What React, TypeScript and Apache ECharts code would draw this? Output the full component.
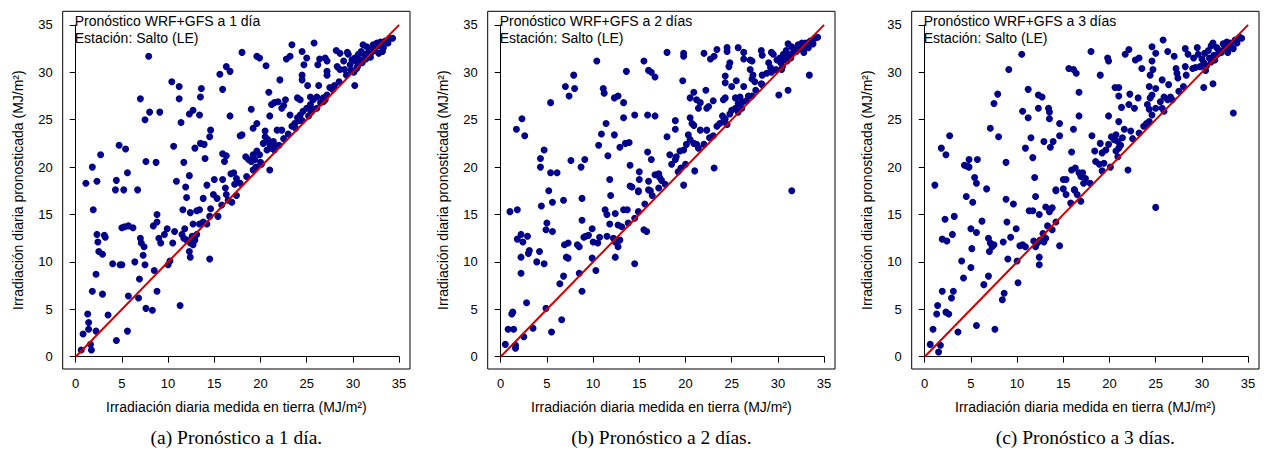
import React, { useEffect, useRef } from "react";
import * as echarts from "echarts";

const TICKS_MIN = 0;
const TICKS_MAX = 35;
const TICK_STEP = 5;
const PANEL_TITLES = ["Pron\u00f3stico WRF+GFS a 1 d\u00eda", "Pron\u00f3stico WRF+GFS a 2 d\u00edas", "Pron\u00f3stico WRF+GFS a 3 d\u00edas"];
const STATION = "Estaci\u00f3n: Salto (LE)";
const CAPTIONS = ["(a) Pron\u00f3stico a 1 d\u00eda.", "(b) Pron\u00f3stico a 2 d\u00edas.", "(c) Pron\u00f3stico a 3 d\u00edas."];
const X_TITLE = "Irradiaci\u00f3n diaria medida en tierra (MJ/m\u00b2)";
const Y_TITLE = "Irradiaci\u00f3n diaria pronosticada (MJ/m\u00b2)";
const REF_LINE = [[0, 0], [35, 35]];

const DAY1 = [
  [7.9,31.7],[10.4,29.0],[11.2,28.5],[13.6,28.3],[15.9,28.2],[15.6,29.8],[16.3,30.6],[16.7,30.1],[18.0,32.1],[7.0,27.2],[11.2,27.2],[13.5,27.4],[8.0,25.8],[9.1,25.8],[7.5,25.0],[12.3,25.6],[12.7,26.0],[13.4,25.5],[11.4,24.7],[16.7,25.4],[14.6,23.9],[14.5,23.2],[17.8,23.3],[4.7,22.3],[5.4,21.9],[2.7,21.3],[10.6,22.2],[13.5,22.5],[13.9,22.4],[12.9,22.0],[11.7,20.5],[14.0,20.9],[15.9,21.4],[16.3,21.2],[16.1,20.6],[7.6,20.6],[8.7,20.5],[1.8,20.0],[5.6,19.4],[1.1,18.3],[2.3,18.5],[4.4,18.6],[10.9,18.5],[12.3,19.1],[11.9,17.9],[4.3,17.6],[5.2,17.6],[6.7,17.6],[14.2,18.1],[15.0,18.7],[15.9,18.7],[16.8,19.3],[16.2,17.8],[17.2,18.2],
  [19.6,31.7],[19.9,31.5],[20.6,30.7],[23.4,32.9],[25.8,33.1],[22.8,31.4],[23.2,31.7],[24.5,32.2],[25.0,31.5],[26.4,31.4],[27.0,31.5],[27.2,31.2],[24.7,30.8],[26.2,30.8],[28.2,32.3],[28.6,32.0],[29.4,32.1],[28.3,30.6],[28.6,30.3],[29.1,30.3],[29.7,30.8],
  [30.2,31.5],[30.6,31.9],[30.9,32.2],[31.1,32.9],[31.5,32.7],[31.8,32.4],[32.2,32.9],[32.6,33.1],[32.9,32.8],[33.3,32.6],[33.5,33.3],[34.0,33.6],[34.3,33.6],[30.3,31.2],[30.8,31.3],[29.5,31.9],[29.9,31.3],[29.0,31.2],[31.2,31.9],[31.6,32.0],[32.0,32.1],[32.4,32.5],[33.0,33.2],[33.8,33.1],[30.5,30.6],[31.0,31.0],[29.8,30.2],[30.1,30.0],[32.8,32.0],[33.2,32.2],[29.3,29.7],[30.4,30.4],[31.4,31.4],[31.9,31.6],[32.3,32.3],
  [30.2,28.6],[22.1,29.2],[24.5,29.7],[24.5,29.2],[25.1,28.6],[26.3,28.6],[27.2,30.1],[27.2,29.7],[27.5,28.4],[20.9,27.9],[21.5,26.8],[21.2,26.6],[21.9,26.9],[22.7,27.1],[24.0,27.3],[24.3,27.1],[25.4,27.4],[25.7,27.1],[26.1,27.4],[26.8,27.3],[27.2,27.6],[22.3,26.2],[22.5,26.5],[23.2,25.5],[21.0,25.4],[19.0,26.1],[24.0,25.2],[24.3,25.5],[24.6,25.9],[25.0,26.2],[25.7,26.1],[25.4,26.6],[26.1,26.2],[19.6,24.6],[19.2,24.1],[18.0,23.4],[20.5,23.8],[20.5,23.2],[21.8,23.9],[22.3,23.9],[23.4,24.3],[23.7,24.6],[24.1,24.9],[20.8,22.9],[21.0,22.4],[21.4,22.7],[21.2,22.0],[21.6,22.2],[20.7,21.8],[20.3,22.5],[18.4,21.1],[19.2,21.3],[19.6,21.7],[19.9,21.3],[18.7,20.8],[19.0,20.6],[19.4,20.8],[19.2,19.7],[20.1,20.3],[21.0,19.7],[17.4,18.8],[17.1,19.4],
  [25.5,25.8],[26.5,26.8],[27.0,27.1],[27.8,28.2],[28.5,29.0],[28.0,28.6],[26.8,26.9],[23.0,23.5],[22.5,23.0],[24.5,24.9],[25.2,25.4],[22.0,22.3],[20.0,20.5],[18.5,19.0],[17.8,18.3],[19.5,20.0],[21.5,21.8],[23.8,24.1],
  [1.9,15.5],[12.0,16.8],[13.8,16.7],[14.9,17.1],[15.3,16.7],[16.3,17.1],[16.5,16.5],[11.6,15.5],[12.4,15.2],[13.1,15.4],[13.4,15.5],[8.8,15.0],[14.5,14.8],[15.4,14.8],[5.0,13.6],[5.3,13.7],[5.7,13.8],[6.2,13.6],[2.3,12.9],[3.1,12.8],[3.2,12.6],[2.4,12.1],[8.4,13.8],[8.8,14.2],[9.9,13.5],[10.7,13.2],[9.6,12.9],[11.8,13.5],[12.7,14.0],[13.4,14.0],[13.8,14.2],[14.2,14.0],[11.5,12.9],[11.7,12.5],[12.0,12.3],[12.4,12.0],[12.7,11.8],[12.9,12.3],[13.1,12.9],[12.6,12.7],[7.0,12.5],[7.1,12.0],[7.4,11.6],[9.0,12.5],[9.2,12.0],[10.5,12.0],[2.5,11.1],[2.9,10.8],[7.3,10.7],[4.0,9.8],[4.8,9.7],[5.0,9.7],[6.4,10.0],[7.5,9.7],[10.2,10.1],[10.0,9.7],[12.3,11.1],[12.4,10.5],[14.5,10.3],[2.2,8.7],[8.5,9.1],[6.9,8.2],[1.8,6.9],[2.9,6.6],[8.8,6.9],[5.7,6.4],[6.8,6.2],[1.3,4.5],[3.5,4.4],[11.3,5.4],[7.6,5.1],[8.3,4.9],[1.4,3.6],[1.4,2.9],[2.2,2.7],[0.8,2.4],[5.6,2.7],[4.4,1.7],[1.6,1.3],[1.7,0.7],[0.6,0.7],
  [16.9,16.3],[17.4,17.0],[15.8,16.0],[14.6,15.6]
];

const DAY2 = [
  [10.4,31.2],[15.5,31.2],[16.0,30.2],[16.3,30.0],[16.7,29.5],[13.6,30.1],[18.0,32.1],[7.9,29.7],[7.0,28.5],[8.0,28.3],[7.4,27.5],[5.4,26.8],[11.1,28.3],[11.2,27.8],[12.3,27.3],[12.7,27.5],[13.3,26.8],[2.3,25.1],[1.7,24.0],[2.6,23.3],[13.3,25.2],[14.5,25.5],[15.9,25.5],[16.7,25.4],[11.4,24.6],[10.9,23.5],[12.3,23.4],[13.5,22.5],[13.9,22.6],[12.9,22.1],[10.6,22.3],[4.7,21.8],[4.3,20.9],[4.3,20.0],[11.6,21.2],[15.9,21.6],[16.3,20.8],[7.6,20.7],[9.1,20.8],[8.7,20.0],[5.4,19.4],[6.1,19.4],[14.0,20.2],[15.0,19.5],[11.8,18.7],[5.2,17.5],[14.0,18.0],[15.0,18.7],[16.0,18.5],[16.7,19.2],[17.2,18.9],[14.9,17.5],[16.2,17.5],
  [19.8,32.0],[19.8,31.7],[22.0,32.0],[23.4,32.4],[22.7,31.4],[23.1,31.7],[24.5,32.6],[24.5,32.2],[25.7,32.6],[26.3,32.1],[26.3,31.4],[27.0,31.3],[27.2,31.2],[24.8,31.0],[24.7,30.6],[28.2,32.3],[28.3,31.8],[29.3,32.1],[29.5,31.9],
  [30.2,31.5],[30.6,31.9],[30.9,32.3],[31.1,33.0],[31.5,32.7],[31.8,32.4],[32.2,32.9],[32.6,33.1],[32.9,32.8],[33.3,32.6],[33.5,33.3],[34.0,33.6],[34.3,33.7],[30.3,31.0],[30.8,31.3],[29.9,31.3],[29.0,31.0],[31.2,31.8],[31.6,32.0],[32.0,32.2],[32.4,32.5],[33.0,33.1],[33.8,33.0],[30.5,30.6],[31.0,31.2],[29.8,30.3],[32.8,32.1],[29.3,30.0],[30.4,30.3],[31.4,31.5],
  [33.4,29.7],[31.1,28.1],[30.1,27.6],[24.3,29.6],[24.3,28.9],[25.5,29.1],[25.0,28.5],[26.3,28.5],[27.0,30.3],[27.3,29.7],[27.2,29.3],[27.5,29.0],[28.3,29.7],[28.8,29.9],[28.3,28.7],[29.2,30.5],[19.7,29.1],[20.9,27.9],[20.5,27.3],[22.2,28.1],[21.2,27.1],[21.6,26.8],[21.4,26.2],[22.3,26.2],[22.5,26.4],[23.0,27.0],[24.1,27.1],[24.3,27.3],[25.4,27.3],[25.9,27.4],[26.2,26.9],[25.7,26.7],[26.8,27.5],[27.2,27.5],[24.0,25.4],[24.3,25.1],[24.1,24.8],[24.5,24.5],[24.8,25.6],[25.0,26.0],[25.4,26.2],[25.7,25.8],[26.1,26.2],[20.5,25.2],[20.7,24.6],[20.9,24.4],[18.9,24.9],[18.9,24.0],[18.0,23.2],[21.6,23.9],[22.3,23.9],[23.4,24.3],[23.7,24.6],[20.3,23.4],[20.5,22.9],[20.9,22.5],[20.1,22.4],[21.2,22.4],[21.4,22.0],[18.3,21.3],[19.0,21.1],[19.4,21.7],[19.8,21.8],[18.5,20.3],[18.9,20.8],[23.1,19.9],[19.2,19.5],[21.0,19.6],[19.8,18.1],[31.5,17.5],[17.4,18.6],[17.1,19.3],
  [22.0,22.4],[23.0,23.3],[26.6,27.0],[27.6,28.1],[28.2,28.8],[20.0,20.3],[17.8,18.2],[19.5,19.9],[22.6,23.1],
  [14.2,17.9],[14.9,17.4],[16.0,17.6],[17.1,17.8],[5.6,16.3],[6.8,16.5],[8.8,16.7],[4.4,15.9],[11.9,17.0],[1.0,15.3],[1.8,15.5],[11.5,15.0],[11.3,15.5],[12.4,15.1],[13.3,15.5],[13.7,15.5],[8.8,14.4],[5.0,14.1],[4.9,13.4],[5.6,13.2],[9.9,13.5],[9.5,12.8],[9.0,12.6],[9.2,12.7],[10.7,12.6],[11.5,12.7],[12.2,12.5],[11.8,14.0],[12.7,13.9],[13.1,13.7],[13.8,14.1],[14.5,14.6],[15.5,13.4],[15.8,13.2],[2.2,12.9],[2.9,12.7],[1.8,12.4],[2.4,12.1],[6.9,11.8],[7.3,12.0],[8.3,11.8],[8.5,11.6],[10.0,12.1],[10.5,12.0],[12.7,11.6],[12.9,12.3],[12.4,12.1],[3.1,11.2],[3.0,10.9],[4.2,11.1],[2.2,10.5],[3.9,10.0],[4.7,9.8],[7.1,10.5],[7.3,10.4],[9.9,10.4],[12.4,10.5],[14.5,9.8],[10.3,9.1],[2.2,8.8],[6.8,8.5],[8.5,8.8],[6.4,7.7],[8.8,6.9],[2.8,5.7],[4.9,5.1],[1.3,4.7],[1.2,4.5],[6.6,3.9],[0.8,2.9],[1.4,2.9],[3.5,3.0],[2.5,2.1],[5.5,2.6],[0.5,1.3],[1.6,1.2],[1.6,0.9],[16.4,17.0],[15.6,16.1],[14.9,15.3]
];

const DAY3 = [
  [10.5,31.9],[9.1,30.3],[15.6,30.4],[16.1,30.3],[16.4,29.9],[18.0,32.2],[16.7,27.9],[11.2,28.2],[12.3,27.6],[12.7,27.4],[7.9,27.7],[7.5,26.7],[12.3,26.2],[13.4,26.2],[13.5,25.8],[10.6,25.9],[11.2,25.2],[13.5,25.1],[16.7,25.4],[14.6,24.6],[16.1,24.0],[7.1,24.1],[8.0,23.2],[2.7,23.3],[14.6,23.3],[11.5,23.1],[12.9,22.7],[13.9,22.7],[13.6,22.1],[1.8,22.0],[2.3,21.3],[10.9,22.0],[15.9,21.6],[11.7,21.0],[4.3,20.2],[4.6,20.1],[4.8,20.0],[4.8,20.8],[5.7,20.8],[8.8,20.5],[15.9,19.7],[16.3,19.9],[16.7,19.4],[16.9,19.0],[5.4,18.9],[5.6,18.3],[11.9,18.9],[1.1,18.1],[6.7,17.7],[14.2,17.6],[15.0,18.7],[15.3,18.7],[16.2,17.6],[17.2,18.3],
  [19.0,29.7],[19.8,31.5],[19.9,31.2],[21.7,31.9],[22.1,32.4],[22.8,31.3],[23.2,31.5],[23.5,30.4],[24.6,32.7],[25.0,32.0],[24.6,31.2],[24.7,30.3],[24.4,29.7],[25.8,33.4],[26.3,32.2],[27.0,31.7],[27.2,30.4],[27.3,29.9],[27.4,29.4],[25.7,29.2],[26.4,28.7],[28.2,32.5],[28.5,31.9],[29.5,32.6],[29.1,31.5],[29.6,31.9],
  [30.3,32.0],[30.7,32.3],[31.0,32.8],[31.2,33.1],[31.6,32.6],[31.9,32.3],[32.3,33.0],[32.7,33.2],[33.0,32.7],[33.4,32.5],[33.6,33.4],[34.1,33.7],[34.3,33.6],[30.2,31.0],[30.8,31.5],[30.0,31.4],[31.3,31.8],[31.7,31.9],[32.1,32.1],[32.5,32.6],[33.1,33.1],[33.8,33.1],[30.5,30.7],[31.0,31.1],[29.8,30.6],[32.8,32.1],[30.4,30.2],[31.4,31.3],
  [28.2,30.6],[28.3,29.7],[29.0,30.4],[29.3,30.5],[30.2,28.4],[31.2,28.8],[33.4,25.7],[20.6,28.4],[21.0,28.4],[24.3,28.5],[25.0,28.3],[21.0,27.5],[22.2,27.7],[23.1,27.3],[24.4,27.3],[24.6,27.6],[25.9,27.4],[26.3,27.1],[26.6,27.4],[25.5,26.9],[21.3,26.3],[22.1,26.6],[22.7,26.2],[24.1,26.6],[24.3,26.1],[24.6,25.5],[25.0,26.2],[25.7,26.2],[25.9,25.9],[19.9,25.4],[21.0,24.8],[23.7,24.3],[24.0,24.6],[24.3,24.8],[18.1,23.3],[21.6,24.0],[22.3,23.8],[20.2,23.2],[20.7,23.4],[20.5,22.9],[20.9,22.7],[21.2,22.3],[21.4,23.1],[18.4,21.7],[19.0,22.5],[19.2,21.5],[19.9,22.4],[19.6,21.8],[20.7,21.7],[21.0,22.0],[20.9,21.1],[18.5,20.6],[18.9,20.3],[19.4,20.4],[22.0,19.7],[19.2,19.6],[20.1,20.0],[17.4,18.8],[17.1,19.4],[22.5,23.0],[23.2,23.6],[26.8,27.1],[27.5,28.0],[28.0,28.5],[17.9,18.3],
  [4.5,16.9],[5.2,16.3],[8.8,16.6],[9.6,16.1],[12.0,16.9],[14.2,17.5],[15.0,17.7],[15.3,17.1],[16.2,17.6],[16.5,17.1],[11.3,15.4],[11.7,15.4],[12.4,15.0],[13.1,15.8],[13.8,15.7],[13.5,15.3],[2.2,14.5],[3.2,14.8],[6.2,14.3],[8.9,14.2],[5.0,13.5],[5.6,13.1],[9.9,13.5],[3.0,12.9],[1.9,12.4],[2.4,12.2],[6.9,12.5],[7.1,12.0],[7.5,11.8],[7.0,11.1],[7.3,11.6],[8.5,12.1],[9.3,12.6],[10.3,11.7],[10.6,11.8],[10.9,11.6],[11.8,12.2],[12.2,12.0],[12.5,12.3],[12.9,12.1],[13.1,12.5],[12.0,11.6],[12.8,13.0],[13.3,13.8],[13.8,13.4],[14.2,14.2],[14.6,11.7],[5.1,11.4],[12.4,10.5],[12.4,9.7],[4.0,10.1],[5.0,9.4],[9.0,10.3],[10.0,10.1],[6.9,8.5],[6.4,7.6],[4.2,8.3],[10.1,7.8],[1.9,6.9],[3.1,6.9],[2.9,6.2],[8.6,6.7],[8.4,6.0],[1.4,5.4],[1.3,4.5],[2.3,4.7],[2.6,4.5],[0.9,2.9],[3.6,2.6],[5.6,3.3],[7.6,2.9],[0.6,1.3],[1.7,1.2],[1.5,0.5],[25.0,15.75],[16.9,16.4],[15.8,16.2]
];

const SERIES_DATA = [DAY1, DAY2, DAY3];

export default function App() {
  const ref = useRef<HTMLDivElement>(null);
  useEffect(() => {
    if (!ref.current) return;
    const chart = echarts.init(ref.current, null, { renderer: "svg" });
    const dataLefts = [75.7, 500.7, 924.7];
    const dataTop = 24.9, dataW = 323.4, dataH = 331.8;
    const boxPadL = 13, boxTop = 11.3, boxW = 347.3, boxH = 357.7;
    const xOffset = boxTop + boxH - (dataTop + dataH);
    const sans = "Liberation Sans";
    const grids: any[] = [], xAxes: any[] = [], yAxes: any[] = [], series: any[] = [], graphics: any[] = [];
    dataLefts.forEach((dl, i) => {
      const l = dl - boxPadL;
      grids.push({ left: dl, top: dataTop, width: dataW, height: dataH, show: false });
      const common = {
        type: "value", gridIndex: i, min: TICKS_MIN, max: TICKS_MAX, interval: TICK_STEP,
        splitLine: { show: false },
        axisLine: { show: true, lineStyle: { color: "#000", width: 1 } },
        axisTick: { show: true, length: 6, lineStyle: { color: "#000", width: 1 } },
      };
      xAxes.push({ ...common, offset: xOffset,
        axisLabel: { color: "#000", fontSize: 13, fontFamily: sans, margin: 8 } });
      yAxes.push({ ...common, offset: boxPadL,
        axisLabel: { color: "#000", fontSize: 13, fontFamily: sans, margin: 10 } });
      series.push({ type: "scatter", xAxisIndex: i, yAxisIndex: i, data: SERIES_DATA[i], symbolSize: 7,
        itemStyle: { color: "#00008B", opacity: 1 }, z: 2, clip: false });
      series.push({ type: "line", xAxisIndex: i, yAxisIndex: i, data: REF_LINE, symbol: "none",
        lineStyle: { color: "#D00000", width: 2 }, z: 3 });
      const cx = l + boxW / 2;
      graphics.push({ type: "rect", shape: { x: l, y: boxTop, width: boxW, height: boxH },
        style: { fill: "none", stroke: "#000", lineWidth: 1 }, z: 10 });
      // header lines drawn as rich text tokens, inside a group placed in the box corner
      graphics.push({ type: "group", x: l + 12, y: 12, children: [
        { type: "text", x: 0, y: 0, style: {
          text: "{t|" + PANEL_TITLES[i] + "}\n{t|" + STATION + "}",
          rich: { t: { fontSize: 14, fontFamily: sans, fill: "#000", lineHeight: 17.5 } },
          align: "left", verticalAlign: "top" } },
      ] });
      graphics.push({ type: "text", x: cx, y: 407, style: { text: X_TITLE, fill: "#000", fontSize: 14, fontFamily: sans, align: "center", verticalAlign: "middle" } });
      graphics.push({ type: "text", x: l - 45, y: boxTop + boxH / 2, rotation: Math.PI / 2, style: { text: Y_TITLE, fill: "#000", fontSize: 14, fontFamily: sans, align: "center", verticalAlign: "middle" } });
      graphics.push({ type: "text", x: cx, y: 437, style: { text: CAPTIONS[i], fill: "#000", fontSize: 19.5, fontFamily: "Liberation Serif", align: "center", verticalAlign: "middle" } });
    });
    chart.setOption({
      animation: false,
      backgroundColor: "#fff",
      grid: grids,
      xAxis: xAxes,
      yAxis: yAxes,
      series,
      graphic: graphics,
    });
    return () => chart.dispose();
  }, []);
  return <div ref={ref} style={{ position: "absolute", left: 0, top: 0, width: 1264, height: 451 }} />;
}
